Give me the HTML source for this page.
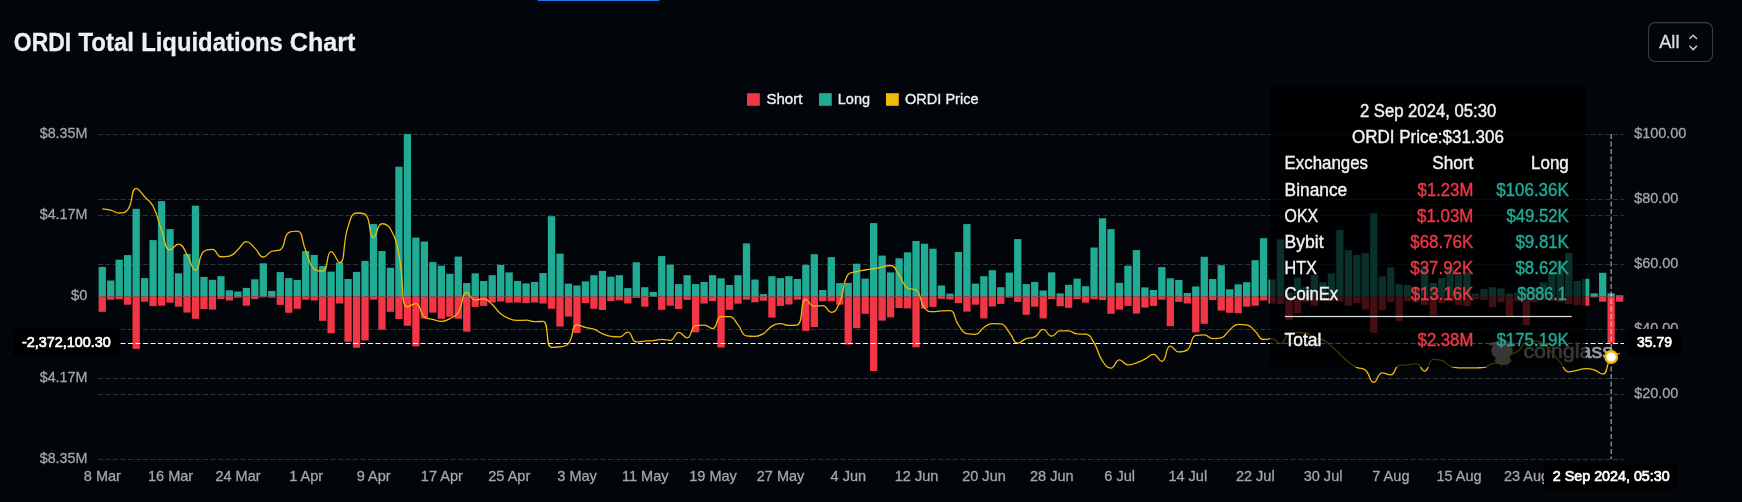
<!DOCTYPE html>
<html><head><meta charset="utf-8"><title>ORDI Total Liquidations Chart</title>
<style>
html,body{margin:0;padding:0;background:#02050a;}
body{width:1742px;height:502px;overflow:hidden;position:relative;font-family:"Liberation Sans",sans-serif;}
svg{position:absolute;left:0;top:0;display:block;will-change:transform}
text{font-family:"Liberation Sans",sans-serif;}
</style></head><body>
<svg width="1742" height="502" viewBox="0 0 1742 502">
<rect x="0" y="0" width="1742" height="502" fill="#02050a"/>
<rect x="537.7" y="0" width="121.8" height="1" fill="#1677e8"/>

<text x="13.80" y="51.30" font-size="25.5" fill="#eef0f5" textLength="57.40" lengthAdjust="spacingAndGlyphs" font-weight="700" stroke="#eef0f5" stroke-width="0.3">ORDI</text>
<text x="78.50" y="51.30" font-size="25.5" fill="#eef0f5" textLength="55.40" lengthAdjust="spacingAndGlyphs" font-weight="700" stroke="#eef0f5" stroke-width="0.3">Total</text>
<text x="141.20" y="51.30" font-size="25.5" fill="#eef0f5" textLength="141.70" lengthAdjust="spacingAndGlyphs" font-weight="700" stroke="#eef0f5" stroke-width="0.3">Liquidations</text>
<text x="289.80" y="51.30" font-size="25.5" fill="#eef0f5" textLength="65.60" lengthAdjust="spacingAndGlyphs" font-weight="700" stroke="#eef0f5" stroke-width="0.3">Chart</text>
<rect x="1648.6" y="22.6" width="63.9" height="38.9" rx="6.5" ry="6.5" fill="none" stroke="#3a3d44" stroke-width="1.1"/>
<text x="1659.20" y="47.90" font-size="18.5" fill="#dcdfe6" textLength="20.30" lengthAdjust="spacingAndGlyphs" stroke="#dcdfe6" stroke-width="0.3">All</text>
<path d="M1689.9 38.5 L1693.2 35.2 L1696.5 38.5 M1689.9 46.3 L1693.2 49.6 L1696.5 46.3" fill="none" stroke="#c8cbd2" stroke-width="1.5" stroke-linecap="round" stroke-linejoin="round"/>
<rect x="747" y="93.2" width="12.8" height="12.6" fill="#f23645"/>
<text x="766.40" y="103.70" font-size="15" fill="#f0f0f0" textLength="36.00" lengthAdjust="spacingAndGlyphs" stroke="#f0f0f0" stroke-width="0.35">Short</text>
<rect x="819" y="93.2" width="12.8" height="12.6" fill="#22ab94"/>
<text x="837.80" y="103.70" font-size="15" fill="#f0f0f0" textLength="32.20" lengthAdjust="spacingAndGlyphs" stroke="#f0f0f0" stroke-width="0.35">Long</text>
<rect x="886" y="93.2" width="12.8" height="12.6" fill="#f0b90b"/>
<text x="905.00" y="103.70" font-size="15" fill="#f0f0f0" textLength="73.50" lengthAdjust="spacingAndGlyphs" stroke="#f0f0f0" stroke-width="0.35">ORDI Price</text>
<line x1="98" y1="134.50" x2="1624.3" y2="134.50" stroke="#303238" stroke-width="1" stroke-dasharray="5 2.5"/>
<line x1="98" y1="215.50" x2="1624.3" y2="215.50" stroke="#303238" stroke-width="1" stroke-dasharray="5 2.5"/>
<line x1="98" y1="296.50" x2="1624.3" y2="296.50" stroke="#303238" stroke-width="1" stroke-dasharray="5 2.5"/>
<line x1="98" y1="378.50" x2="1624.3" y2="378.50" stroke="#303238" stroke-width="1" stroke-dasharray="5 2.5"/>
<line x1="98" y1="459.50" x2="1624.3" y2="459.50" stroke="#303238" stroke-width="1" stroke-dasharray="5 2.5"/>
<line x1="98" y1="199.50" x2="1624.3" y2="199.50" stroke="#303238" stroke-width="1" stroke-dasharray="5 2.5"/>
<line x1="98" y1="264.50" x2="1624.3" y2="264.50" stroke="#303238" stroke-width="1" stroke-dasharray="5 2.5"/>
<line x1="98" y1="329.50" x2="1624.3" y2="329.50" stroke="#303238" stroke-width="1" stroke-dasharray="5 2.5"/>
<line x1="98" y1="394.50" x2="1624.3" y2="394.50" stroke="#303238" stroke-width="1" stroke-dasharray="5 2.5"/>
<text x="39.70" y="137.60" font-size="15" fill="#a6a6a6" textLength="47.80" lengthAdjust="spacingAndGlyphs" stroke="#a6a6a6" stroke-width="0.3">$8.35M</text>
<text x="39.70" y="218.80" font-size="15" fill="#a6a6a6" textLength="47.80" lengthAdjust="spacingAndGlyphs" stroke="#a6a6a6" stroke-width="0.3">$4.17M</text>
<text x="71.10" y="300.40" font-size="15" fill="#a6a6a6" textLength="16.40" lengthAdjust="spacingAndGlyphs" stroke="#a6a6a6" stroke-width="0.3">$0</text>
<text x="39.70" y="381.50" font-size="15" fill="#a6a6a6" textLength="47.80" lengthAdjust="spacingAndGlyphs" stroke="#a6a6a6" stroke-width="0.3">$4.17M</text>
<text x="39.70" y="462.80" font-size="15" fill="#a6a6a6" textLength="47.80" lengthAdjust="spacingAndGlyphs" stroke="#a6a6a6" stroke-width="0.3">$8.35M</text>
<text x="1634.20" y="137.60" font-size="15" fill="#a6a6a6" textLength="52.20" lengthAdjust="spacingAndGlyphs" stroke="#a6a6a6" stroke-width="0.3">$100.00</text>
<text x="1634.20" y="202.60" font-size="15" fill="#a6a6a6" textLength="44.20" lengthAdjust="spacingAndGlyphs" stroke="#a6a6a6" stroke-width="0.3">$80.00</text>
<text x="1634.20" y="267.60" font-size="15" fill="#a6a6a6" textLength="44.20" lengthAdjust="spacingAndGlyphs" stroke="#a6a6a6" stroke-width="0.3">$60.00</text>
<text x="1634.20" y="332.60" font-size="15" fill="#a6a6a6" textLength="44.20" lengthAdjust="spacingAndGlyphs" stroke="#a6a6a6" stroke-width="0.3">$40.00</text>
<text x="1634.20" y="397.60" font-size="15" fill="#a6a6a6" textLength="44.20" lengthAdjust="spacingAndGlyphs" stroke="#a6a6a6" stroke-width="0.3">$20.00</text>
<text x="83.83" y="481.00" font-size="15" fill="#a6a6a6" textLength="37.12" lengthAdjust="spacingAndGlyphs" stroke="#a6a6a6" stroke-width="0.3">8 Mar</text>
<text x="147.96" y="481.00" font-size="15" fill="#a6a6a6" textLength="45.19" lengthAdjust="spacingAndGlyphs" stroke="#a6a6a6" stroke-width="0.3">16 Mar</text>
<text x="215.42" y="481.00" font-size="15" fill="#a6a6a6" textLength="45.19" lengthAdjust="spacingAndGlyphs" stroke="#a6a6a6" stroke-width="0.3">24 Mar</text>
<text x="289.23" y="481.00" font-size="15" fill="#a6a6a6" textLength="33.91" lengthAdjust="spacingAndGlyphs" stroke="#a6a6a6" stroke-width="0.3">1 Apr</text>
<text x="356.70" y="481.00" font-size="15" fill="#a6a6a6" textLength="33.91" lengthAdjust="spacingAndGlyphs" stroke="#a6a6a6" stroke-width="0.3">9 Apr</text>
<text x="420.83" y="481.00" font-size="15" fill="#a6a6a6" textLength="41.98" lengthAdjust="spacingAndGlyphs" stroke="#a6a6a6" stroke-width="0.3">17 Apr</text>
<text x="488.29" y="481.00" font-size="15" fill="#a6a6a6" textLength="41.98" lengthAdjust="spacingAndGlyphs" stroke="#a6a6a6" stroke-width="0.3">25 Apr</text>
<text x="557.33" y="481.00" font-size="15" fill="#a6a6a6" textLength="39.54" lengthAdjust="spacingAndGlyphs" stroke="#a6a6a6" stroke-width="0.3">3 May</text>
<text x="622.00" y="481.00" font-size="15" fill="#a6a6a6" textLength="46.54" lengthAdjust="spacingAndGlyphs" stroke="#a6a6a6" stroke-width="0.3">11 May</text>
<text x="689.27" y="481.00" font-size="15" fill="#a6a6a6" textLength="47.62" lengthAdjust="spacingAndGlyphs" stroke="#a6a6a6" stroke-width="0.3">19 May</text>
<text x="756.74" y="481.00" font-size="15" fill="#a6a6a6" textLength="47.62" lengthAdjust="spacingAndGlyphs" stroke="#a6a6a6" stroke-width="0.3">27 May</text>
<text x="830.60" y="481.00" font-size="15" fill="#a6a6a6" textLength="35.52" lengthAdjust="spacingAndGlyphs" stroke="#a6a6a6" stroke-width="0.3">4 Jun</text>
<text x="894.73" y="481.00" font-size="15" fill="#a6a6a6" textLength="43.60" lengthAdjust="spacingAndGlyphs" stroke="#a6a6a6" stroke-width="0.3">12 Jun</text>
<text x="962.20" y="481.00" font-size="15" fill="#a6a6a6" textLength="43.60" lengthAdjust="spacingAndGlyphs" stroke="#a6a6a6" stroke-width="0.3">20 Jun</text>
<text x="1030.01" y="481.00" font-size="15" fill="#a6a6a6" textLength="43.60" lengthAdjust="spacingAndGlyphs" stroke="#a6a6a6" stroke-width="0.3">28 Jun</text>
<text x="1104.29" y="481.00" font-size="15" fill="#a6a6a6" textLength="30.67" lengthAdjust="spacingAndGlyphs" stroke="#a6a6a6" stroke-width="0.3">6 Jul</text>
<text x="1168.42" y="481.00" font-size="15" fill="#a6a6a6" textLength="38.75" lengthAdjust="spacingAndGlyphs" stroke="#a6a6a6" stroke-width="0.3">14 Jul</text>
<text x="1235.89" y="481.00" font-size="15" fill="#a6a6a6" textLength="38.75" lengthAdjust="spacingAndGlyphs" stroke="#a6a6a6" stroke-width="0.3">22 Jul</text>
<text x="1303.70" y="481.00" font-size="15" fill="#a6a6a6" textLength="38.75" lengthAdjust="spacingAndGlyphs" stroke="#a6a6a6" stroke-width="0.3">30 Jul</text>
<text x="1372.32" y="481.00" font-size="15" fill="#a6a6a6" textLength="37.15" lengthAdjust="spacingAndGlyphs" stroke="#a6a6a6" stroke-width="0.3">7 Aug</text>
<text x="1436.45" y="481.00" font-size="15" fill="#a6a6a6" textLength="45.22" lengthAdjust="spacingAndGlyphs" stroke="#a6a6a6" stroke-width="0.3">15 Aug</text>
<text x="1503.91" y="481.00" font-size="15" fill="#a6a6a6" textLength="45.22" lengthAdjust="spacingAndGlyphs" stroke="#a6a6a6" stroke-width="0.3">23 Aug</text>
<text x="1571.73" y="481.00" font-size="15" fill="#a6a6a6" textLength="45.22" lengthAdjust="spacingAndGlyphs" stroke="#a6a6a6" stroke-width="0.3">31 Aug</text>
<defs><clipPath id="cin"><rect x="1270" y="85" width="315.6" height="281.4"/></clipPath><clipPath id="cout"><rect x="1585.6" y="0" width="200" height="502"/></clipPath></defs>
<g clip-path="url(#cin)"><text x="1523.4" y="357.9" font-size="20.7" fill="#c4c5c9" stroke="#c4c5c9" stroke-width="0.7" textLength="89.5" lengthAdjust="spacingAndGlyphs">coinglass</text><g fill="#c4c5c9"><ellipse cx="1502" cy="344" rx="13.6" ry="2.4"/><path d="M1494.8 344 q1 -4.6 7.2 -4.6 q6.2 0 7.2 4.6z"/><ellipse cx="1502" cy="350.6" rx="10.8" ry="9"/><ellipse cx="1503" cy="360.4" rx="8.3" ry="4.6"/><path d="M1493.5 367.4 l3 -1.6 l1 1.6z M1499 367.4 l1.2 -1.8 l2 0 l0.5 1.8z M1505 367.4 l0.8 -1.8 l2 0 l1 1.8z" opacity="0.7"/></g></g>
<g clip-path="url(#cout)"><text x="1523.4" y="357.9" font-size="20.7" fill="#9a9b9f" stroke="#9a9b9f" stroke-width="0.7" textLength="89.5" lengthAdjust="spacingAndGlyphs">coinglass</text><g fill="#9a9b9f"><ellipse cx="1502" cy="344" rx="13.6" ry="2.4"/><path d="M1494.8 344 q1 -4.6 7.2 -4.6 q6.2 0 7.2 4.6z"/><ellipse cx="1502" cy="350.6" rx="10.8" ry="9"/><ellipse cx="1503" cy="360.4" rx="8.3" ry="4.6"/><path d="M1493.5 367.4 l3 -1.6 l1 1.6z M1499 367.4 l1.2 -1.8 l2 0 l0.5 1.8z M1505 367.4 l0.8 -1.8 l2 0 l1 1.8z" opacity="0.7"/></g></g>
<rect x="98.59" y="266.90" width="7.3" height="29.60" fill="#22ab94"/>
<rect x="98.59" y="296.5" width="7.3" height="15.30" fill="#f23645"/>
<rect x="107.07" y="280.50" width="7.3" height="16.00" fill="#22ab94"/>
<rect x="107.07" y="296.5" width="7.3" height="3.20" fill="#f23645"/>
<rect x="115.54" y="259.70" width="7.3" height="36.80" fill="#22ab94"/>
<rect x="115.54" y="296.5" width="7.3" height="2.80" fill="#f23645"/>
<rect x="124.02" y="255.10" width="7.3" height="41.40" fill="#22ab94"/>
<rect x="124.02" y="296.5" width="7.3" height="8.20" fill="#f23645"/>
<rect x="132.50" y="208.80" width="7.3" height="87.70" fill="#22ab94"/>
<rect x="132.50" y="296.5" width="7.3" height="52.40" fill="#f23645"/>
<rect x="140.97" y="278.10" width="7.3" height="18.40" fill="#22ab94"/>
<rect x="140.97" y="296.5" width="7.3" height="5.20" fill="#f23645"/>
<rect x="149.45" y="240.10" width="7.3" height="56.40" fill="#22ab94"/>
<rect x="149.45" y="296.5" width="7.3" height="9.60" fill="#f23645"/>
<rect x="157.93" y="201.10" width="7.3" height="95.40" fill="#22ab94"/>
<rect x="157.93" y="296.5" width="7.3" height="9.20" fill="#f23645"/>
<rect x="166.40" y="229.10" width="7.3" height="67.40" fill="#22ab94"/>
<rect x="166.40" y="296.5" width="7.3" height="6.20" fill="#f23645"/>
<rect x="174.88" y="273.30" width="7.3" height="23.20" fill="#22ab94"/>
<rect x="174.88" y="296.5" width="7.3" height="10.20" fill="#f23645"/>
<rect x="183.36" y="253.90" width="7.3" height="42.60" fill="#22ab94"/>
<rect x="183.36" y="296.5" width="7.3" height="16.10" fill="#f23645"/>
<rect x="191.84" y="205.70" width="7.3" height="90.80" fill="#22ab94"/>
<rect x="191.84" y="296.5" width="7.3" height="22.30" fill="#f23645"/>
<rect x="200.31" y="276.90" width="7.3" height="19.60" fill="#22ab94"/>
<rect x="200.31" y="296.5" width="7.3" height="12.50" fill="#f23645"/>
<rect x="208.79" y="279.80" width="7.3" height="16.70" fill="#22ab94"/>
<rect x="208.79" y="296.5" width="7.3" height="13.10" fill="#f23645"/>
<rect x="217.27" y="276.20" width="7.3" height="20.30" fill="#22ab94"/>
<rect x="217.27" y="296.5" width="7.3" height="2.40" fill="#f23645"/>
<rect x="225.74" y="290.30" width="7.3" height="6.20" fill="#22ab94"/>
<rect x="225.74" y="296.5" width="7.3" height="4.00" fill="#f23645"/>
<rect x="234.22" y="291.50" width="7.3" height="5.00" fill="#22ab94"/>
<rect x="234.22" y="296.5" width="7.3" height="1.20" fill="#f23645"/>
<rect x="242.70" y="287.90" width="7.3" height="8.60" fill="#22ab94"/>
<rect x="242.70" y="296.5" width="7.3" height="9.20" fill="#f23645"/>
<rect x="251.17" y="279.30" width="7.3" height="17.20" fill="#22ab94"/>
<rect x="251.17" y="296.5" width="7.3" height="2.60" fill="#f23645"/>
<rect x="259.65" y="263.30" width="7.3" height="33.20" fill="#22ab94"/>
<rect x="259.65" y="296.5" width="7.3" height="0.80" fill="#f23645"/>
<rect x="268.13" y="291.00" width="7.3" height="5.50" fill="#22ab94"/>
<rect x="268.13" y="296.5" width="7.3" height="1.20" fill="#f23645"/>
<rect x="276.61" y="272.10" width="7.3" height="24.40" fill="#22ab94"/>
<rect x="276.61" y="296.5" width="7.3" height="8.40" fill="#f23645"/>
<rect x="285.08" y="278.10" width="7.3" height="18.40" fill="#22ab94"/>
<rect x="285.08" y="296.5" width="7.3" height="16.30" fill="#f23645"/>
<rect x="293.56" y="280.00" width="7.3" height="16.50" fill="#22ab94"/>
<rect x="293.56" y="296.5" width="7.3" height="12.30" fill="#f23645"/>
<rect x="302.04" y="251.10" width="7.3" height="45.40" fill="#22ab94"/>
<rect x="302.04" y="296.5" width="7.3" height="3.20" fill="#f23645"/>
<rect x="310.51" y="254.90" width="7.3" height="41.60" fill="#22ab94"/>
<rect x="310.51" y="296.5" width="7.3" height="4.00" fill="#f23645"/>
<rect x="318.99" y="266.10" width="7.3" height="30.40" fill="#22ab94"/>
<rect x="318.99" y="296.5" width="7.3" height="24.30" fill="#f23645"/>
<rect x="327.47" y="271.60" width="7.3" height="24.90" fill="#22ab94"/>
<rect x="327.47" y="296.5" width="7.3" height="36.80" fill="#f23645"/>
<rect x="335.94" y="262.50" width="7.3" height="34.00" fill="#22ab94"/>
<rect x="335.94" y="296.5" width="7.3" height="7.00" fill="#f23645"/>
<rect x="344.42" y="279.00" width="7.3" height="17.50" fill="#22ab94"/>
<rect x="344.42" y="296.5" width="7.3" height="45.20" fill="#f23645"/>
<rect x="352.90" y="271.90" width="7.3" height="24.60" fill="#22ab94"/>
<rect x="352.90" y="296.5" width="7.3" height="51.20" fill="#f23645"/>
<rect x="361.38" y="260.90" width="7.3" height="35.60" fill="#22ab94"/>
<rect x="361.38" y="296.5" width="7.3" height="44.00" fill="#f23645"/>
<rect x="369.85" y="224.10" width="7.3" height="72.40" fill="#22ab94"/>
<rect x="369.85" y="296.5" width="7.3" height="3.20" fill="#f23645"/>
<rect x="378.33" y="251.10" width="7.3" height="45.40" fill="#22ab94"/>
<rect x="378.33" y="296.5" width="7.3" height="33.20" fill="#f23645"/>
<rect x="386.81" y="267.80" width="7.3" height="28.70" fill="#22ab94"/>
<rect x="386.81" y="296.5" width="7.3" height="15.30" fill="#f23645"/>
<rect x="395.28" y="166.70" width="7.3" height="129.80" fill="#22ab94"/>
<rect x="395.28" y="296.5" width="7.3" height="22.50" fill="#f23645"/>
<rect x="403.76" y="134.10" width="7.3" height="162.40" fill="#22ab94"/>
<rect x="403.76" y="296.5" width="7.3" height="29.30" fill="#f23645"/>
<rect x="412.24" y="237.50" width="7.3" height="59.00" fill="#22ab94"/>
<rect x="412.24" y="296.5" width="7.3" height="49.80" fill="#f23645"/>
<rect x="420.71" y="241.50" width="7.3" height="55.00" fill="#22ab94"/>
<rect x="420.71" y="296.5" width="7.3" height="22.10" fill="#f23645"/>
<rect x="429.19" y="262.10" width="7.3" height="34.40" fill="#22ab94"/>
<rect x="429.19" y="296.5" width="7.3" height="16.10" fill="#f23645"/>
<rect x="437.67" y="265.70" width="7.3" height="30.80" fill="#22ab94"/>
<rect x="437.67" y="296.5" width="7.3" height="22.30" fill="#f23645"/>
<rect x="446.15" y="273.80" width="7.3" height="22.70" fill="#22ab94"/>
<rect x="446.15" y="296.5" width="7.3" height="20.30" fill="#f23645"/>
<rect x="454.62" y="256.60" width="7.3" height="39.90" fill="#22ab94"/>
<rect x="454.62" y="296.5" width="7.3" height="22.30" fill="#f23645"/>
<rect x="463.10" y="283.10" width="7.3" height="13.40" fill="#22ab94"/>
<rect x="463.10" y="296.5" width="7.3" height="35.20" fill="#f23645"/>
<rect x="471.58" y="273.30" width="7.3" height="23.20" fill="#22ab94"/>
<rect x="471.58" y="296.5" width="7.3" height="10.40" fill="#f23645"/>
<rect x="480.05" y="281.00" width="7.3" height="15.50" fill="#22ab94"/>
<rect x="480.05" y="296.5" width="7.3" height="9.40" fill="#f23645"/>
<rect x="488.53" y="275.20" width="7.3" height="21.30" fill="#22ab94"/>
<rect x="488.53" y="296.5" width="7.3" height="6.00" fill="#f23645"/>
<rect x="497.01" y="264.90" width="7.3" height="31.60" fill="#22ab94"/>
<rect x="497.01" y="296.5" width="7.3" height="5.00" fill="#f23645"/>
<rect x="505.48" y="272.40" width="7.3" height="24.10" fill="#22ab94"/>
<rect x="505.48" y="296.5" width="7.3" height="6.20" fill="#f23645"/>
<rect x="513.96" y="281.00" width="7.3" height="15.50" fill="#22ab94"/>
<rect x="513.96" y="296.5" width="7.3" height="6.00" fill="#f23645"/>
<rect x="522.44" y="283.40" width="7.3" height="13.10" fill="#22ab94"/>
<rect x="522.44" y="296.5" width="7.3" height="6.60" fill="#f23645"/>
<rect x="530.92" y="281.90" width="7.3" height="14.60" fill="#22ab94"/>
<rect x="530.92" y="296.5" width="7.3" height="6.00" fill="#f23645"/>
<rect x="539.39" y="273.10" width="7.3" height="23.40" fill="#22ab94"/>
<rect x="539.39" y="296.5" width="7.3" height="7.00" fill="#f23645"/>
<rect x="547.87" y="216.20" width="7.3" height="80.30" fill="#22ab94"/>
<rect x="547.87" y="296.5" width="7.3" height="12.30" fill="#f23645"/>
<rect x="556.35" y="253.70" width="7.3" height="42.80" fill="#22ab94"/>
<rect x="556.35" y="296.5" width="7.3" height="30.10" fill="#f23645"/>
<rect x="564.82" y="283.60" width="7.3" height="12.90" fill="#22ab94"/>
<rect x="564.82" y="296.5" width="7.3" height="20.10" fill="#f23645"/>
<rect x="573.30" y="285.50" width="7.3" height="11.00" fill="#22ab94"/>
<rect x="573.30" y="296.5" width="7.3" height="36.40" fill="#f23645"/>
<rect x="581.78" y="281.40" width="7.3" height="15.10" fill="#22ab94"/>
<rect x="581.78" y="296.5" width="7.3" height="6.60" fill="#f23645"/>
<rect x="590.25" y="275.20" width="7.3" height="21.30" fill="#22ab94"/>
<rect x="590.25" y="296.5" width="7.3" height="12.30" fill="#f23645"/>
<rect x="598.73" y="270.90" width="7.3" height="25.60" fill="#22ab94"/>
<rect x="598.73" y="296.5" width="7.3" height="13.50" fill="#f23645"/>
<rect x="607.21" y="276.70" width="7.3" height="19.80" fill="#22ab94"/>
<rect x="607.21" y="296.5" width="7.3" height="4.60" fill="#f23645"/>
<rect x="615.69" y="275.20" width="7.3" height="21.30" fill="#22ab94"/>
<rect x="615.69" y="296.5" width="7.3" height="3.80" fill="#f23645"/>
<rect x="624.16" y="288.10" width="7.3" height="8.40" fill="#22ab94"/>
<rect x="624.16" y="296.5" width="7.3" height="7.00" fill="#f23645"/>
<rect x="632.64" y="262.30" width="7.3" height="34.20" fill="#22ab94"/>
<rect x="632.64" y="296.5" width="7.3" height="1.40" fill="#f23645"/>
<rect x="641.12" y="287.20" width="7.3" height="9.30" fill="#22ab94"/>
<rect x="641.12" y="296.5" width="7.3" height="10.20" fill="#f23645"/>
<rect x="649.59" y="291.90" width="7.3" height="4.60" fill="#22ab94"/>
<rect x="649.59" y="296.5" width="7.3" height="0.30" fill="#f23645"/>
<rect x="658.07" y="256.10" width="7.3" height="40.40" fill="#22ab94"/>
<rect x="658.07" y="296.5" width="7.3" height="13.30" fill="#f23645"/>
<rect x="666.55" y="264.70" width="7.3" height="31.80" fill="#22ab94"/>
<rect x="666.55" y="296.5" width="7.3" height="9.20" fill="#f23645"/>
<rect x="675.02" y="284.10" width="7.3" height="12.40" fill="#22ab94"/>
<rect x="675.02" y="296.5" width="7.3" height="12.50" fill="#f23645"/>
<rect x="683.50" y="275.20" width="7.3" height="21.30" fill="#22ab94"/>
<rect x="683.50" y="296.5" width="7.3" height="3.40" fill="#f23645"/>
<rect x="691.98" y="284.10" width="7.3" height="12.40" fill="#22ab94"/>
<rect x="691.98" y="296.5" width="7.3" height="35.80" fill="#f23645"/>
<rect x="700.46" y="281.90" width="7.3" height="14.60" fill="#22ab94"/>
<rect x="700.46" y="296.5" width="7.3" height="7.00" fill="#f23645"/>
<rect x="708.93" y="275.20" width="7.3" height="21.30" fill="#22ab94"/>
<rect x="708.93" y="296.5" width="7.3" height="4.60" fill="#f23645"/>
<rect x="717.41" y="278.30" width="7.3" height="18.20" fill="#22ab94"/>
<rect x="717.41" y="296.5" width="7.3" height="51.00" fill="#f23645"/>
<rect x="725.89" y="285.00" width="7.3" height="11.50" fill="#22ab94"/>
<rect x="725.89" y="296.5" width="7.3" height="13.30" fill="#f23645"/>
<rect x="734.36" y="275.20" width="7.3" height="21.30" fill="#22ab94"/>
<rect x="734.36" y="296.5" width="7.3" height="7.20" fill="#f23645"/>
<rect x="742.84" y="243.40" width="7.3" height="53.10" fill="#22ab94"/>
<rect x="742.84" y="296.5" width="7.3" height="3.20" fill="#f23645"/>
<rect x="751.32" y="279.50" width="7.3" height="17.00" fill="#22ab94"/>
<rect x="751.32" y="296.5" width="7.3" height="5.80" fill="#f23645"/>
<rect x="759.79" y="294.10" width="7.3" height="2.40" fill="#22ab94"/>
<rect x="759.79" y="296.5" width="7.3" height="4.20" fill="#f23645"/>
<rect x="768.27" y="276.20" width="7.3" height="20.30" fill="#22ab94"/>
<rect x="768.27" y="296.5" width="7.3" height="21.10" fill="#f23645"/>
<rect x="776.75" y="278.10" width="7.3" height="18.40" fill="#22ab94"/>
<rect x="776.75" y="296.5" width="7.3" height="9.40" fill="#f23645"/>
<rect x="785.23" y="276.20" width="7.3" height="20.30" fill="#22ab94"/>
<rect x="785.23" y="296.5" width="7.3" height="8.00" fill="#f23645"/>
<rect x="793.70" y="279.00" width="7.3" height="17.50" fill="#22ab94"/>
<rect x="793.70" y="296.5" width="7.3" height="3.20" fill="#f23645"/>
<rect x="802.18" y="264.90" width="7.3" height="31.60" fill="#22ab94"/>
<rect x="802.18" y="296.5" width="7.3" height="34.40" fill="#f23645"/>
<rect x="810.66" y="254.20" width="7.3" height="42.30" fill="#22ab94"/>
<rect x="810.66" y="296.5" width="7.3" height="30.50" fill="#f23645"/>
<rect x="819.13" y="290.00" width="7.3" height="6.50" fill="#22ab94"/>
<rect x="819.13" y="296.5" width="7.3" height="4.80" fill="#f23645"/>
<rect x="827.61" y="257.10" width="7.3" height="39.40" fill="#22ab94"/>
<rect x="827.61" y="296.5" width="7.3" height="4.80" fill="#f23645"/>
<rect x="836.09" y="283.10" width="7.3" height="13.40" fill="#22ab94"/>
<rect x="836.09" y="296.5" width="7.3" height="8.20" fill="#f23645"/>
<rect x="844.56" y="282.90" width="7.3" height="13.60" fill="#22ab94"/>
<rect x="844.56" y="296.5" width="7.3" height="48.00" fill="#f23645"/>
<rect x="853.04" y="263.70" width="7.3" height="32.80" fill="#22ab94"/>
<rect x="853.04" y="296.5" width="7.3" height="31.70" fill="#f23645"/>
<rect x="861.52" y="278.60" width="7.3" height="17.90" fill="#22ab94"/>
<rect x="861.52" y="296.5" width="7.3" height="17.30" fill="#f23645"/>
<rect x="870.00" y="223.10" width="7.3" height="73.40" fill="#22ab94"/>
<rect x="870.00" y="296.5" width="7.3" height="74.50" fill="#f23645"/>
<rect x="878.47" y="255.60" width="7.3" height="40.90" fill="#22ab94"/>
<rect x="878.47" y="296.5" width="7.3" height="24.10" fill="#f23645"/>
<rect x="886.95" y="272.40" width="7.3" height="24.10" fill="#22ab94"/>
<rect x="886.95" y="296.5" width="7.3" height="20.90" fill="#f23645"/>
<rect x="895.43" y="258.30" width="7.3" height="38.20" fill="#22ab94"/>
<rect x="895.43" y="296.5" width="7.3" height="11.50" fill="#f23645"/>
<rect x="903.90" y="252.30" width="7.3" height="44.20" fill="#22ab94"/>
<rect x="903.90" y="296.5" width="7.3" height="11.90" fill="#f23645"/>
<rect x="912.38" y="241.00" width="7.3" height="55.50" fill="#22ab94"/>
<rect x="912.38" y="296.5" width="7.3" height="50.80" fill="#f23645"/>
<rect x="920.86" y="243.70" width="7.3" height="52.80" fill="#22ab94"/>
<rect x="920.86" y="296.5" width="7.3" height="12.10" fill="#f23645"/>
<rect x="929.33" y="248.70" width="7.3" height="47.80" fill="#22ab94"/>
<rect x="929.33" y="296.5" width="7.3" height="10.40" fill="#f23645"/>
<rect x="937.81" y="285.50" width="7.3" height="11.00" fill="#22ab94"/>
<rect x="937.81" y="296.5" width="7.3" height="2.40" fill="#f23645"/>
<rect x="946.29" y="293.60" width="7.3" height="2.90" fill="#22ab94"/>
<rect x="946.29" y="296.5" width="7.3" height="3.00" fill="#f23645"/>
<rect x="954.77" y="252.00" width="7.3" height="44.50" fill="#22ab94"/>
<rect x="954.77" y="296.5" width="7.3" height="6.60" fill="#f23645"/>
<rect x="963.24" y="224.10" width="7.3" height="72.40" fill="#22ab94"/>
<rect x="963.24" y="296.5" width="7.3" height="15.10" fill="#f23645"/>
<rect x="971.72" y="283.60" width="7.3" height="12.90" fill="#22ab94"/>
<rect x="971.72" y="296.5" width="7.3" height="8.20" fill="#f23645"/>
<rect x="980.20" y="276.20" width="7.3" height="20.30" fill="#22ab94"/>
<rect x="980.20" y="296.5" width="7.3" height="21.90" fill="#f23645"/>
<rect x="988.67" y="270.20" width="7.3" height="26.30" fill="#22ab94"/>
<rect x="988.67" y="296.5" width="7.3" height="10.00" fill="#f23645"/>
<rect x="997.15" y="287.20" width="7.3" height="9.30" fill="#22ab94"/>
<rect x="997.15" y="296.5" width="7.3" height="7.40" fill="#f23645"/>
<rect x="1005.63" y="272.60" width="7.3" height="23.90" fill="#22ab94"/>
<rect x="1005.63" y="296.5" width="7.3" height="1.20" fill="#f23645"/>
<rect x="1014.10" y="239.10" width="7.3" height="57.40" fill="#22ab94"/>
<rect x="1014.10" y="296.5" width="7.3" height="5.40" fill="#f23645"/>
<rect x="1022.58" y="284.10" width="7.3" height="12.40" fill="#22ab94"/>
<rect x="1022.58" y="296.5" width="7.3" height="18.30" fill="#f23645"/>
<rect x="1031.06" y="281.90" width="7.3" height="14.60" fill="#22ab94"/>
<rect x="1031.06" y="296.5" width="7.3" height="10.20" fill="#f23645"/>
<rect x="1039.54" y="290.50" width="7.3" height="6.00" fill="#22ab94"/>
<rect x="1039.54" y="296.5" width="7.3" height="21.90" fill="#f23645"/>
<rect x="1048.01" y="272.40" width="7.3" height="24.10" fill="#22ab94"/>
<rect x="1048.01" y="296.5" width="7.3" height="2.60" fill="#f23645"/>
<rect x="1056.49" y="293.40" width="7.3" height="3.10" fill="#22ab94"/>
<rect x="1056.49" y="296.5" width="7.3" height="9.80" fill="#f23645"/>
<rect x="1064.97" y="284.80" width="7.3" height="11.70" fill="#22ab94"/>
<rect x="1064.97" y="296.5" width="7.3" height="11.30" fill="#f23645"/>
<rect x="1073.44" y="278.60" width="7.3" height="17.90" fill="#22ab94"/>
<rect x="1073.44" y="296.5" width="7.3" height="2.60" fill="#f23645"/>
<rect x="1081.92" y="286.20" width="7.3" height="10.30" fill="#22ab94"/>
<rect x="1081.92" y="296.5" width="7.3" height="6.20" fill="#f23645"/>
<rect x="1090.40" y="247.50" width="7.3" height="49.00" fill="#22ab94"/>
<rect x="1090.40" y="296.5" width="7.3" height="2.80" fill="#f23645"/>
<rect x="1098.87" y="218.30" width="7.3" height="78.20" fill="#22ab94"/>
<rect x="1098.87" y="296.5" width="7.3" height="3.60" fill="#f23645"/>
<rect x="1107.35" y="229.10" width="7.3" height="67.40" fill="#22ab94"/>
<rect x="1107.35" y="296.5" width="7.3" height="17.30" fill="#f23645"/>
<rect x="1115.83" y="282.90" width="7.3" height="13.60" fill="#22ab94"/>
<rect x="1115.83" y="296.5" width="7.3" height="13.10" fill="#f23645"/>
<rect x="1124.31" y="265.70" width="7.3" height="30.80" fill="#22ab94"/>
<rect x="1124.31" y="296.5" width="7.3" height="9.40" fill="#f23645"/>
<rect x="1132.78" y="250.10" width="7.3" height="46.40" fill="#22ab94"/>
<rect x="1132.78" y="296.5" width="7.3" height="17.10" fill="#f23645"/>
<rect x="1141.26" y="287.40" width="7.3" height="9.10" fill="#22ab94"/>
<rect x="1141.26" y="296.5" width="7.3" height="11.10" fill="#f23645"/>
<rect x="1149.74" y="290.00" width="7.3" height="6.50" fill="#22ab94"/>
<rect x="1149.74" y="296.5" width="7.3" height="9.40" fill="#f23645"/>
<rect x="1158.21" y="267.10" width="7.3" height="29.40" fill="#22ab94"/>
<rect x="1158.21" y="296.5" width="7.3" height="3.20" fill="#f23645"/>
<rect x="1166.69" y="278.30" width="7.3" height="18.20" fill="#22ab94"/>
<rect x="1166.69" y="296.5" width="7.3" height="29.70" fill="#f23645"/>
<rect x="1175.17" y="280.00" width="7.3" height="16.50" fill="#22ab94"/>
<rect x="1175.17" y="296.5" width="7.3" height="5.40" fill="#f23645"/>
<rect x="1183.64" y="293.00" width="7.3" height="3.50" fill="#22ab94"/>
<rect x="1183.64" y="296.5" width="7.3" height="7.00" fill="#f23645"/>
<rect x="1192.12" y="286.50" width="7.3" height="10.00" fill="#22ab94"/>
<rect x="1192.12" y="296.5" width="7.3" height="35.80" fill="#f23645"/>
<rect x="1200.60" y="256.80" width="7.3" height="39.70" fill="#22ab94"/>
<rect x="1200.60" y="296.5" width="7.3" height="27.30" fill="#f23645"/>
<rect x="1209.08" y="279.00" width="7.3" height="17.50" fill="#22ab94"/>
<rect x="1209.08" y="296.5" width="7.3" height="3.60" fill="#f23645"/>
<rect x="1217.55" y="265.20" width="7.3" height="31.30" fill="#22ab94"/>
<rect x="1217.55" y="296.5" width="7.3" height="14.10" fill="#f23645"/>
<rect x="1226.03" y="289.30" width="7.3" height="7.20" fill="#22ab94"/>
<rect x="1226.03" y="296.5" width="7.3" height="16.30" fill="#f23645"/>
<rect x="1234.51" y="284.30" width="7.3" height="12.20" fill="#22ab94"/>
<rect x="1234.51" y="296.5" width="7.3" height="16.70" fill="#f23645"/>
<rect x="1242.98" y="282.20" width="7.3" height="14.30" fill="#22ab94"/>
<rect x="1242.98" y="296.5" width="7.3" height="10.20" fill="#f23645"/>
<rect x="1251.46" y="260.20" width="7.3" height="36.30" fill="#22ab94"/>
<rect x="1251.46" y="296.5" width="7.3" height="9.20" fill="#f23645"/>
<rect x="1259.94" y="238.20" width="7.3" height="58.30" fill="#22ab94"/>
<rect x="1259.94" y="296.5" width="7.3" height="4.00" fill="#f23645"/>
<rect x="1268.41" y="279.50" width="7.3" height="17.00" fill="#22ab94"/>
<rect x="1268.41" y="296.5" width="7.3" height="7.00" fill="#f23645"/>
<rect x="1276.89" y="239.40" width="7.3" height="57.10" fill="#22ab94"/>
<rect x="1276.89" y="296.5" width="7.3" height="7.60" fill="#f23645"/>
<rect x="1285.37" y="292.50" width="7.3" height="4.00" fill="#22ab94"/>
<rect x="1285.37" y="296.5" width="7.3" height="23.70" fill="#f23645"/>
<rect x="1293.85" y="277.60" width="7.3" height="18.90" fill="#22ab94"/>
<rect x="1293.85" y="296.5" width="7.3" height="16.70" fill="#f23645"/>
<rect x="1302.32" y="286.50" width="7.3" height="10.00" fill="#22ab94"/>
<rect x="1302.32" y="296.5" width="7.3" height="5.60" fill="#f23645"/>
<rect x="1310.80" y="275.00" width="7.3" height="21.50" fill="#22ab94"/>
<rect x="1310.80" y="296.5" width="7.3" height="9.20" fill="#f23645"/>
<rect x="1319.28" y="282.20" width="7.3" height="14.30" fill="#22ab94"/>
<rect x="1319.28" y="296.5" width="7.3" height="4.00" fill="#f23645"/>
<rect x="1327.75" y="273.30" width="7.3" height="23.20" fill="#22ab94"/>
<rect x="1327.75" y="296.5" width="7.3" height="4.60" fill="#f23645"/>
<rect x="1336.23" y="230.00" width="7.3" height="66.50" fill="#22ab94"/>
<rect x="1336.23" y="296.5" width="7.3" height="5.20" fill="#f23645"/>
<rect x="1344.71" y="250.10" width="7.3" height="46.40" fill="#22ab94"/>
<rect x="1344.71" y="296.5" width="7.3" height="9.20" fill="#f23645"/>
<rect x="1353.18" y="254.90" width="7.3" height="41.60" fill="#22ab94"/>
<rect x="1353.18" y="296.5" width="7.3" height="6.60" fill="#f23645"/>
<rect x="1361.66" y="253.20" width="7.3" height="43.30" fill="#22ab94"/>
<rect x="1361.66" y="296.5" width="7.3" height="13.10" fill="#f23645"/>
<rect x="1370.14" y="213.30" width="7.3" height="83.20" fill="#22ab94"/>
<rect x="1370.14" y="296.5" width="7.3" height="36.40" fill="#f23645"/>
<rect x="1378.62" y="276.40" width="7.3" height="20.10" fill="#22ab94"/>
<rect x="1378.62" y="296.5" width="7.3" height="13.70" fill="#f23645"/>
<rect x="1387.09" y="267.30" width="7.3" height="29.20" fill="#22ab94"/>
<rect x="1387.09" y="296.5" width="7.3" height="5.60" fill="#f23645"/>
<rect x="1395.57" y="284.30" width="7.3" height="12.20" fill="#22ab94"/>
<rect x="1395.57" y="296.5" width="7.3" height="24.70" fill="#f23645"/>
<rect x="1404.05" y="285.00" width="7.3" height="11.50" fill="#22ab94"/>
<rect x="1404.05" y="296.5" width="7.3" height="4.60" fill="#f23645"/>
<rect x="1412.52" y="287.50" width="7.3" height="9.00" fill="#22ab94"/>
<rect x="1412.52" y="296.5" width="7.3" height="5.60" fill="#f23645"/>
<rect x="1421.00" y="265.70" width="7.3" height="30.80" fill="#22ab94"/>
<rect x="1421.00" y="296.5" width="7.3" height="8.60" fill="#f23645"/>
<rect x="1429.48" y="282.90" width="7.3" height="13.60" fill="#22ab94"/>
<rect x="1429.48" y="296.5" width="7.3" height="18.70" fill="#f23645"/>
<rect x="1437.95" y="278.10" width="7.3" height="18.40" fill="#22ab94"/>
<rect x="1437.95" y="296.5" width="7.3" height="6.60" fill="#f23645"/>
<rect x="1446.43" y="266.50" width="7.3" height="30.00" fill="#22ab94"/>
<rect x="1446.43" y="296.5" width="7.3" height="4.60" fill="#f23645"/>
<rect x="1454.91" y="274.50" width="7.3" height="22.00" fill="#22ab94"/>
<rect x="1454.91" y="296.5" width="7.3" height="8.60" fill="#f23645"/>
<rect x="1463.39" y="272.10" width="7.3" height="24.40" fill="#22ab94"/>
<rect x="1463.39" y="296.5" width="7.3" height="9.60" fill="#f23645"/>
<rect x="1471.86" y="293.60" width="7.3" height="2.90" fill="#22ab94"/>
<rect x="1471.86" y="296.5" width="7.3" height="2.60" fill="#f23645"/>
<rect x="1480.34" y="288.90" width="7.3" height="7.60" fill="#22ab94"/>
<rect x="1480.34" y="296.5" width="7.3" height="3.60" fill="#f23645"/>
<rect x="1488.82" y="287.20" width="7.3" height="9.30" fill="#22ab94"/>
<rect x="1488.82" y="296.5" width="7.3" height="10.60" fill="#f23645"/>
<rect x="1497.29" y="288.40" width="7.3" height="8.10" fill="#22ab94"/>
<rect x="1497.29" y="296.5" width="7.3" height="5.60" fill="#f23645"/>
<rect x="1505.77" y="293.60" width="7.3" height="2.90" fill="#22ab94"/>
<rect x="1505.77" y="296.5" width="7.3" height="19.70" fill="#f23645"/>
<rect x="1514.25" y="292.50" width="7.3" height="4.00" fill="#22ab94"/>
<rect x="1514.25" y="296.5" width="7.3" height="4.60" fill="#f23645"/>
<rect x="1522.72" y="290.00" width="7.3" height="6.50" fill="#22ab94"/>
<rect x="1522.72" y="296.5" width="7.3" height="28.70" fill="#f23645"/>
<rect x="1531.20" y="287.70" width="7.3" height="8.80" fill="#22ab94"/>
<rect x="1531.20" y="296.5" width="7.3" height="5.60" fill="#f23645"/>
<rect x="1539.68" y="282.40" width="7.3" height="14.10" fill="#22ab94"/>
<rect x="1539.68" y="296.5" width="7.3" height="3.60" fill="#f23645"/>
<rect x="1548.16" y="272.10" width="7.3" height="24.40" fill="#22ab94"/>
<rect x="1548.16" y="296.5" width="7.3" height="4.60" fill="#f23645"/>
<rect x="1556.63" y="261.40" width="7.3" height="35.10" fill="#22ab94"/>
<rect x="1556.63" y="296.5" width="7.3" height="5.60" fill="#f23645"/>
<rect x="1565.11" y="253.00" width="7.3" height="43.50" fill="#22ab94"/>
<rect x="1565.11" y="296.5" width="7.3" height="7.60" fill="#f23645"/>
<rect x="1573.59" y="281.00" width="7.3" height="15.50" fill="#22ab94"/>
<rect x="1573.59" y="296.5" width="7.3" height="8.60" fill="#f23645"/>
<rect x="1582.06" y="278.80" width="7.3" height="17.70" fill="#22ab94"/>
<rect x="1582.06" y="296.5" width="7.3" height="9.20" fill="#f23645"/>
<rect x="1590.54" y="293.40" width="7.3" height="3.10" fill="#22ab94"/>
<rect x="1590.54" y="296.5" width="7.3" height="0.80" fill="#f23645"/>
<rect x="1599.02" y="272.80" width="7.3" height="23.70" fill="#22ab94"/>
<rect x="1599.02" y="296.5" width="7.3" height="5.20" fill="#f23645"/>
<rect x="1607.49" y="293.40" width="7.3" height="3.10" fill="#22ab94"/>
<rect x="1607.49" y="296.5" width="7.3" height="46.80" fill="#f23645"/>
<rect x="1615.97" y="295.30" width="7.3" height="1.20" fill="#22ab94"/>
<rect x="1615.97" y="296.5" width="7.3" height="5.20" fill="#f23645"/>
<path d="M102.24 208.93 C102.24 208.93 106.57 209.13 110.72 210.12 C115.05 211.16 114.97 212.99 119.19 212.99 C123.45 212.99 125.29 212.99 127.67 209.88 C133.77 201.92 130.55 188.37 136.15 188.37 C139.03 188.37 140.53 192.41 144.62 196.73 C149.01 201.37 150.26 200.69 153.10 206.30 C158.74 217.42 156.98 218.39 161.58 230.20 C165.45 240.15 164.32 249.81 170.05 249.81 C172.80 249.81 174.88 244.07 178.53 244.07 C183.35 244.07 183.36 248.93 187.01 254.59 C191.84 262.08 191.58 270.37 195.49 270.37 C200.05 270.37 197.97 255.84 203.96 251.24 C206.45 249.33 208.75 249.33 212.44 249.33 C217.22 249.33 216.09 256.74 220.92 256.74 C224.56 256.74 225.60 256.74 229.39 256.02 C234.08 255.14 233.87 253.19 237.87 249.81 C242.34 246.02 241.90 241.68 246.35 241.68 C250.38 241.68 250.88 244.57 254.82 248.13 C259.36 252.22 258.68 256.98 263.30 256.98 C267.16 256.98 267.17 252.95 271.78 251.24 C275.65 249.81 277.63 251.24 280.26 249.81 C286.11 246.61 282.88 235.79 288.73 232.59 C291.36 231.16 294.76 231.16 297.21 231.16 C303.24 231.16 301.36 240.88 305.69 250.52 C309.84 259.77 308.24 263.95 314.16 268.93 C316.72 271.08 320.16 271.08 322.64 271.08 C328.64 271.08 326.00 251.72 331.12 251.72 C334.48 251.72 337.29 262.72 339.59 262.72 C345.76 262.72 342.16 243.97 348.07 226.62 C350.63 219.11 351.02 212.99 356.55 212.99 C359.50 212.99 362.84 212.99 365.03 214.19 C371.32 217.63 368.36 237.38 373.50 237.38 C376.84 237.38 376.75 223.75 381.98 223.75 C385.23 223.75 388.19 224.83 390.46 229.01 C396.67 240.45 396.04 241.67 398.93 254.98 C404.51 280.63 400.18 306.92 407.41 306.92 C408.66 306.92 412.78 303.68 415.89 303.68 C421.26 303.68 418.94 312.47 424.36 316.91 C427.42 319.41 428.57 318.28 432.84 319.41 C437.05 320.52 437.13 321.41 441.32 321.41 C445.61 321.41 445.91 320.72 449.80 318.66 C454.39 316.23 455.50 316.70 458.27 312.42 C463.98 303.59 461.18 292.44 466.75 292.44 C469.65 292.44 470.39 299.93 475.23 299.93 C478.87 299.93 479.82 298.93 483.70 298.93 C488.30 298.93 488.40 301.14 492.18 304.43 C496.88 308.51 495.91 309.68 500.66 313.67 C504.38 316.79 504.62 316.87 509.13 318.66 C513.10 320.24 513.33 320.41 517.61 320.41 C521.81 320.41 521.88 320.16 526.09 320.16 C530.36 320.16 530.30 321.66 534.57 321.66 C538.77 321.66 541.03 321.41 543.04 321.41 C549.51 321.41 545.05 347.38 551.52 347.38 C553.53 347.38 555.90 347.38 560.00 346.88 C564.38 346.34 565.88 346.88 568.47 343.63 C574.35 336.28 571.02 324.90 576.95 324.90 C579.50 324.90 581.14 326.33 585.43 327.40 C589.62 328.45 589.88 327.67 593.90 329.15 C598.36 330.79 597.99 331.76 602.38 333.64 C606.46 335.39 606.52 335.87 610.86 336.39 C614.99 336.89 615.38 336.89 619.34 336.89 C623.86 336.89 624.17 332.14 627.81 332.14 C632.65 332.14 631.18 341.88 636.29 341.88 C639.66 341.88 640.52 341.45 644.77 341.13 C649.00 340.82 649.02 341.07 653.24 340.63 C657.50 340.20 657.47 339.39 661.72 339.39 C665.95 339.39 666.61 340.38 670.20 340.38 C675.09 340.38 674.13 332.39 678.67 332.39 C682.61 332.39 683.72 337.89 687.15 337.89 C692.20 337.89 690.23 326.53 695.63 325.65 C698.71 325.15 700.03 325.15 704.11 325.15 C708.51 325.15 709.32 328.65 712.58 328.65 C717.80 328.65 715.69 316.66 721.06 316.66 C724.16 316.66 726.00 316.66 729.54 316.66 C734.47 316.66 734.11 320.48 738.01 324.90 C742.59 330.09 741.23 335.07 746.49 335.89 C749.71 336.39 750.83 336.39 754.97 336.39 C759.31 336.39 759.71 335.90 763.44 333.64 C768.19 330.78 767.16 328.95 771.92 326.15 C775.64 323.97 776.12 323.68 780.40 323.68 C784.59 323.68 784.60 325.43 788.88 325.43 C793.07 325.43 795.32 325.43 797.35 324.93 C803.79 323.35 799.79 299.46 805.83 299.46 C808.27 299.46 809.55 306.20 814.31 306.20 C818.03 306.20 819.06 305.70 822.78 305.70 C827.54 305.70 827.42 312.45 831.26 312.45 C835.90 312.45 837.11 308.33 839.74 302.46 C845.59 289.35 841.72 283.50 848.21 274.49 C850.20 271.74 852.39 272.88 856.69 271.74 C860.87 270.63 860.91 270.75 865.17 269.99 C869.39 269.25 869.43 269.49 873.65 268.75 C877.91 267.99 877.87 267.81 882.12 267.00 C886.35 266.19 887.18 265.50 890.60 265.50 C895.66 265.50 895.28 269.91 899.08 274.99 C903.76 281.27 902.09 285.05 907.55 288.22 C910.56 289.97 913.46 288.22 916.03 289.97 C921.94 293.99 918.73 300.54 924.51 307.95 C927.20 311.40 928.57 311.70 932.98 311.70 C937.04 311.70 937.22 311.20 941.46 310.95 C945.69 310.70 947.07 310.70 949.94 310.70 C955.55 310.70 953.53 318.31 958.42 324.93 C962.01 329.80 961.90 332.60 966.89 333.67 C970.38 334.42 971.67 334.42 975.37 334.42 C980.15 334.42 979.25 330.34 983.85 327.43 C987.72 324.97 987.90 323.68 992.32 323.68 C996.37 323.68 997.29 323.68 1000.80 323.93 C1005.77 324.29 1005.32 327.93 1009.28 332.42 C1013.79 337.54 1012.77 343.16 1017.75 343.16 C1021.25 343.16 1021.77 340.31 1026.23 338.67 C1030.25 337.18 1031.03 338.67 1034.71 336.92 C1039.51 334.63 1038.85 329.43 1043.19 329.43 C1047.33 329.43 1047.25 336.17 1051.66 336.17 C1055.73 336.17 1055.56 330.92 1060.14 330.92 C1064.04 330.92 1064.50 330.92 1068.62 330.92 C1072.98 330.92 1072.73 333.66 1077.09 333.92 C1081.21 334.17 1082.09 333.92 1085.57 334.17 C1090.57 334.53 1090.85 337.82 1094.05 342.91 C1099.33 351.31 1097.04 352.99 1102.52 361.14 C1105.52 365.60 1106.92 368.13 1111.00 368.13 C1115.39 368.13 1114.85 359.89 1119.48 359.89 C1123.33 359.89 1123.46 364.89 1127.96 364.89 C1131.94 364.89 1132.33 364.28 1136.43 362.89 C1140.80 361.41 1140.77 361.21 1144.91 359.14 C1149.25 356.97 1149.41 354.40 1153.39 354.40 C1157.89 354.40 1158.59 361.39 1161.86 361.39 C1167.06 361.39 1165.00 346.16 1170.34 346.16 C1173.48 346.16 1174.24 351.90 1178.82 351.90 C1182.71 351.90 1184.40 351.90 1187.29 349.90 C1192.87 346.06 1190.14 336.42 1195.77 335.44 C1198.62 334.94 1200.20 334.94 1204.25 334.94 C1208.67 334.94 1208.31 338.68 1212.73 338.68 C1216.78 338.68 1217.62 338.68 1221.20 337.93 C1226.10 336.91 1225.14 333.55 1229.68 329.94 C1233.62 326.81 1233.55 324.45 1238.16 324.45 C1242.03 324.45 1242.85 324.45 1246.63 324.95 C1251.33 325.57 1251.12 327.78 1255.11 331.19 C1259.59 335.02 1258.66 339.43 1263.59 339.43 C1267.14 339.43 1268.13 338.68 1272.06 338.68 C1276.61 338.68 1276.91 343.68 1280.54 343.68 C1285.38 343.68 1283.89 335.60 1289.02 333.69 C1292.37 332.44 1293.24 332.44 1297.50 332.44 C1301.71 332.44 1302.05 332.44 1305.97 332.94 C1310.52 333.52 1309.95 336.08 1314.45 337.93 C1318.43 339.57 1319.09 338.07 1322.93 339.93 C1327.57 342.19 1327.38 342.80 1331.40 346.17 C1335.86 349.91 1335.61 350.20 1339.88 354.16 C1344.09 358.07 1343.85 358.39 1348.36 361.91 C1352.33 365.00 1352.31 365.27 1356.83 367.40 C1360.79 369.26 1362.18 367.40 1365.31 369.90 C1370.66 374.16 1369.19 382.38 1373.79 382.38 C1377.67 382.38 1377.23 372.89 1382.27 372.89 C1385.71 372.89 1387.30 374.89 1390.74 374.89 C1395.77 374.89 1394.14 366.15 1399.22 365.40 C1402.61 364.90 1403.48 365.34 1407.70 364.90 C1411.95 364.46 1412.52 363.65 1416.17 363.65 C1421.00 363.65 1420.93 371.15 1424.65 371.15 C1429.41 371.15 1427.79 359.41 1433.13 359.41 C1436.27 359.41 1437.75 359.41 1441.60 360.41 C1446.23 361.61 1445.49 364.12 1450.08 366.15 C1453.96 367.87 1454.28 367.90 1458.56 367.90 C1462.75 367.90 1462.80 367.90 1467.04 367.90 C1471.27 367.90 1471.28 367.90 1475.51 367.90 C1479.75 367.90 1479.94 367.90 1483.99 367.40 C1488.41 366.85 1488.06 364.95 1492.47 363.65 C1496.54 362.45 1497.29 363.65 1500.94 362.41 C1505.77 360.76 1504.76 358.00 1509.42 354.91 C1513.24 352.38 1514.23 353.87 1517.90 351.17 C1522.71 347.62 1521.40 344.20 1526.37 342.43 C1529.88 341.18 1530.68 341.18 1534.85 341.18 C1539.16 341.18 1539.76 341.31 1543.33 343.68 C1548.24 346.93 1547.72 347.91 1551.81 352.42 C1556.20 357.27 1555.98 357.46 1560.28 362.41 C1564.46 367.20 1563.70 371.89 1568.76 371.89 C1572.18 371.89 1573.01 371.21 1577.24 370.40 C1581.49 369.58 1581.45 368.65 1585.71 368.65 C1589.93 368.65 1590.17 368.65 1594.19 369.90 C1598.64 371.28 1599.82 374.14 1602.67 374.14 C1608.30 374.14 1605.47 364.26 1611.14 357.41 C1613.95 354.03 1619.62 353.67 1619.62 353.67" fill="none" stroke="#f0b90b" stroke-width="1.3" stroke-linejoin="round"/>
<line x1="98" y1="343.5" x2="1624" y2="343.5" stroke="#ffffff" stroke-width="1" stroke-dasharray="5 2.5"/>
<line x1="1611.2" y1="134" x2="1611.2" y2="459" stroke="#ffffff" stroke-opacity="0.55" stroke-width="1.4" stroke-dasharray="5 2.5"/>
<rect x="13" y="329" width="107.1" height="27.3" rx="4" fill="#000"/>
<text x="21.90" y="346.90" font-size="15" fill="#fff" textLength="88.90" lengthAdjust="spacingAndGlyphs" stroke="#fff" stroke-width="0.7">-2,372,100.30</text>
<rect x="1627.7" y="329" width="53.4" height="27.3" rx="4" fill="#000"/>
<text x="1637.10" y="346.90" font-size="15" fill="#fff" textLength="34.80" lengthAdjust="spacingAndGlyphs" stroke="#fff" stroke-width="0.7">35.79</text>
<rect x="1544" y="463.2" width="133.8" height="26.4" rx="4" fill="#000"/>
<text x="1552.80" y="481.30" font-size="15" fill="#fff" textLength="116.90" lengthAdjust="spacingAndGlyphs" stroke="#fff" stroke-width="0.7">2 Sep 2024, 05:30</text>
<rect x="1270" y="85.3" width="315.6" height="281.8" rx="5" fill="#000" fill-opacity="0.72"/>
<text x="1359.90" y="117.00" font-size="17.5" fill="#f2f2f2" textLength="136.30" lengthAdjust="spacingAndGlyphs" stroke="#f2f2f2" stroke-width="0.4">2 Sep 2024, 05:30</text>
<text x="1352.10" y="143.00" font-size="17.5" fill="#f2f2f2" textLength="151.80" lengthAdjust="spacingAndGlyphs" stroke="#f2f2f2" stroke-width="0.4">ORDI Price:$31.306</text>
<text x="1284.60" y="169.30" font-size="17.5" fill="#f2f2f2" textLength="83.40" lengthAdjust="spacingAndGlyphs" stroke="#f2f2f2" stroke-width="0.4">Exchanges</text>
<text x="1432.20" y="169.30" font-size="17.5" fill="#f2f2f2" textLength="41.10" lengthAdjust="spacingAndGlyphs" stroke="#f2f2f2" stroke-width="0.4">Short</text>
<text x="1531.00" y="169.30" font-size="17.5" fill="#f2f2f2" textLength="37.80" lengthAdjust="spacingAndGlyphs" stroke="#f2f2f2" stroke-width="0.4">Long</text>
<text x="1284.60" y="195.50" font-size="17.5" fill="#f2f2f2" textLength="62.60" lengthAdjust="spacingAndGlyphs" stroke="#f2f2f2" stroke-width="0.4">Binance</text>
<text x="1417.60" y="195.50" font-size="17.5" fill="#f23645" textLength="55.70" lengthAdjust="spacingAndGlyphs" stroke="#f23645" stroke-width="0.4">$1.23M</text>
<text x="1496.20" y="195.50" font-size="17.5" fill="#22ab94" textLength="72.60" lengthAdjust="spacingAndGlyphs" stroke="#22ab94" stroke-width="0.4">$106.36K</text>
<text x="1284.60" y="221.70" font-size="17.5" fill="#f2f2f2" textLength="33.50" lengthAdjust="spacingAndGlyphs" stroke="#f2f2f2" stroke-width="0.4">OKX</text>
<text x="1417.10" y="221.70" font-size="17.5" fill="#f23645" textLength="56.20" lengthAdjust="spacingAndGlyphs" stroke="#f23645" stroke-width="0.4">$1.03M</text>
<text x="1506.40" y="221.70" font-size="17.5" fill="#22ab94" textLength="62.40" lengthAdjust="spacingAndGlyphs" stroke="#22ab94" stroke-width="0.4">$49.52K</text>
<text x="1284.60" y="247.90" font-size="17.5" fill="#f2f2f2" textLength="39.00" lengthAdjust="spacingAndGlyphs" stroke="#f2f2f2" stroke-width="0.4">Bybit</text>
<text x="1410.30" y="247.90" font-size="17.5" fill="#f23645" textLength="63.00" lengthAdjust="spacingAndGlyphs" stroke="#f23645" stroke-width="0.4">$68.76K</text>
<text x="1515.50" y="247.90" font-size="17.5" fill="#22ab94" textLength="53.30" lengthAdjust="spacingAndGlyphs" stroke="#22ab94" stroke-width="0.4">$9.81K</text>
<text x="1284.60" y="274.10" font-size="17.5" fill="#f2f2f2" textLength="32.30" lengthAdjust="spacingAndGlyphs" stroke="#f2f2f2" stroke-width="0.4">HTX</text>
<text x="1410.30" y="274.10" font-size="17.5" fill="#f23645" textLength="63.00" lengthAdjust="spacingAndGlyphs" stroke="#f23645" stroke-width="0.4">$37.92K</text>
<text x="1515.50" y="274.10" font-size="17.5" fill="#22ab94" textLength="53.30" lengthAdjust="spacingAndGlyphs" stroke="#22ab94" stroke-width="0.4">$8.62K</text>
<text x="1284.60" y="300.30" font-size="17.5" fill="#f2f2f2" textLength="53.50" lengthAdjust="spacingAndGlyphs" stroke="#f2f2f2" stroke-width="0.4">CoinEx</text>
<text x="1410.70" y="300.30" font-size="17.5" fill="#f23645" textLength="62.60" lengthAdjust="spacingAndGlyphs" stroke="#f23645" stroke-width="0.4">$13.16K</text>
<text x="1517.30" y="300.30" font-size="17.5" fill="#22ab94" textLength="49.50" lengthAdjust="spacingAndGlyphs" stroke="#22ab94" stroke-width="0.4">$886.1</text>
<text x="1284.60" y="346.20" font-size="17.5" fill="#f2f2f2" textLength="36.70" lengthAdjust="spacingAndGlyphs" stroke="#f2f2f2" stroke-width="0.4">Total</text>
<text x="1417.60" y="346.20" font-size="17.5" fill="#f23645" textLength="55.70" lengthAdjust="spacingAndGlyphs" stroke="#f23645" stroke-width="0.4">$2.38M</text>
<text x="1496.40" y="346.20" font-size="17.5" fill="#22ab94" textLength="72.40" lengthAdjust="spacingAndGlyphs" stroke="#22ab94" stroke-width="0.4">$175.19K</text>
<rect x="1284.8" y="315.9" width="287" height="1.25" fill="#dcdcdc"/>
<circle cx="1611.2" cy="357.0" r="5.75" fill="#fff" stroke="#f0b90b" stroke-width="2.3"/>
</svg></body></html>
